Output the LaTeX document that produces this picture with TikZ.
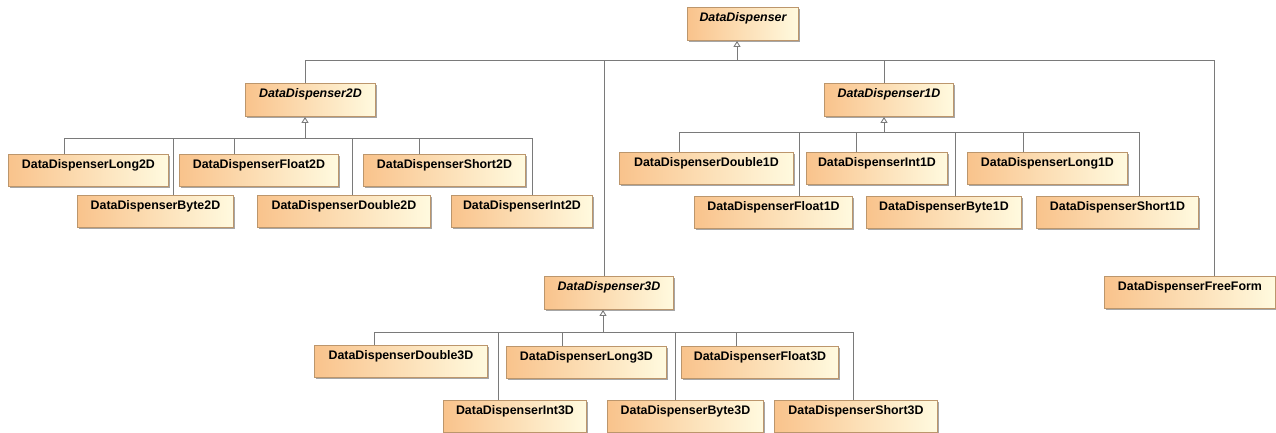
\documentclass[tikz,border=0pt]{standalone}
\usepackage{fontspec}
\setmainfont{Liberation Sans}
\usetikzlibrary{arrows.meta,shadows}
\definecolor{cOrange}{HTML}{F9C38C}
\definecolor{cYellow}{HTML}{FFFADF}
\definecolor{cBorder}{HTML}{BC966C}
\definecolor{cLine}{HTML}{7A7A7A}
\tikzset{
  cls/.style={draw=cBorder, line width=0.9pt, left color=cOrange, right color=cYellow,
    anchor=north west, inner xsep=0pt, inner ysep=0pt, text height=14pt, text depth=18pt,
    font=\fontsize{12.4}{14}\selectfont\bfseries, text=black,
    drop shadow={shadow xshift=1.6pt, shadow yshift=-1.6pt, fill=black!35, opacity=1}},
  abs/.style={cls, text depth=19pt, font=\fontsize{12.4}{14}\selectfont\bfseries\itshape},
  conn/.style={draw=cLine, line width=0.9pt},
  gen/.style={conn, -{Triangle[open, length=6pt, width=7pt]}},
}
\begin{document}
\begin{tikzpicture}[x=1pt,y=-1pt]
\useasboundingbox (0,0) rectangle (1276,432);
% root
\node[abs, minimum width=111pt] (dd) at (687,7) {DataDispenser};
% abstract children
\node[abs, minimum width=130pt] (d2) at (245,83) {DataDispenser2D};
\node[abs, minimum width=129pt] (d1) at (824,83) {DataDispenser1D};
\node[abs, minimum width=129pt] (d3) at (544,276) {DataDispenser3D};
\node[cls, minimum width=171pt] (ff) at (1104,276) {DataDispenserFreeForm};
% 2D children
\node[cls, minimum width=160pt] (long2) at (8,154) {DataDispenserLong2D};
\node[cls, minimum width=159pt] (float2) at (179,154) {DataDispenserFloat2D};
\node[cls, minimum width=162pt] (short2) at (363,154) {DataDispenserShort2D};
\node[cls, minimum width=156pt] (byte2) at (77,195) {DataDispenserByte2D};
\node[cls, minimum width=173pt] (double2) at (257,195) {DataDispenserDouble2D};
\node[cls, minimum width=141pt] (int2) at (451,195) {DataDispenserInt2D};
% 1D children
\node[cls, minimum width=174pt] (double1) at (619,152) {DataDispenserDouble1D};
\node[cls, minimum width=141pt] (int1) at (806,152) {DataDispenserInt1D};
\node[cls, minimum width=160pt] (long1) at (967,152) {DataDispenserLong1D};
\node[cls, minimum width=158pt] (float1) at (694,196) {DataDispenserFloat1D};
\node[cls, minimum width=155pt] (byte1) at (866,196) {DataDispenserByte1D};
\node[cls, minimum width=162pt] (short1) at (1036,196) {DataDispenserShort1D};
% 3D children
\node[cls, minimum width=173pt] (double3) at (314,345) {DataDispenserDouble3D};
\node[cls, minimum width=160pt] (long3) at (506,346) {DataDispenserLong3D};
\node[cls, minimum width=157pt] (float3) at (681,346) {DataDispenserFloat3D};
\node[cls, minimum width=143pt] (int3) at (443,400) {DataDispenserInt3D};
\node[cls, minimum width=156pt] (byte3) at (607,400) {DataDispenserByte3D};
\node[cls, minimum width=163pt] (short3) at (774,400) {DataDispenserShort3D};
% junctions: root bus
\coordinate (r0) at (737,60);
\coordinate (r2) at (305,60);
\coordinate (r3) at (604,60);
\coordinate (r1) at (884,60);
\coordinate (rf) at (1214,60);
\draw[conn] (r2) -- (rf);
\draw[gen] (r0) -- (r0 |- dd.south);
\draw[conn] (r2) -- (r2 |- d2.north);
\draw[conn] (r3) -- (r3 |- d3.north);
\draw[conn] (r1) -- (r1 |- d1.north);
\draw[conn] (rf) -- (rf |- ff.north);
% 2D bus
\coordinate (a0) at (305,138);
\coordinate (aLong) at (64,138);
\coordinate (aByte) at (173,138);
\coordinate (aFloat) at (234,138);
\coordinate (aDouble) at (352,138);
\coordinate (aShort) at (419,138);
\coordinate (aInt) at (532,138);
\draw[conn] (aLong) -- (aInt);
\draw[gen] (a0) -- (a0 |- d2.south);
\draw[conn] (aLong) -- (aLong |- long2.north);
\draw[conn] (aByte) -- (aByte |- byte2.north);
\draw[conn] (aFloat) -- (aFloat |- float2.north);
\draw[conn] (aDouble) -- (aDouble |- double2.north);
\draw[conn] (aShort) -- (aShort |- short2.north);
\draw[conn] (aInt) -- (aInt |- int2.north);
% 1D bus
\coordinate (b0) at (884,132);
\coordinate (bDouble) at (679,132);
\coordinate (bFloat) at (799,132);
\coordinate (bInt) at (856,132);
\coordinate (bByte) at (955,132);
\coordinate (bLong) at (1023,132);
\coordinate (bShort) at (1139,132);
\draw[conn] (bDouble) -- (bShort);
\draw[gen] (b0) -- (b0 |- d1.south);
\draw[conn] (bDouble) -- (bDouble |- double1.north);
\draw[conn] (bFloat) -- (bFloat |- float1.north);
\draw[conn] (bInt) -- (bInt |- int1.north);
\draw[conn] (bByte) -- (bByte |- byte1.north);
\draw[conn] (bLong) -- (bLong |- long1.north);
\draw[conn] (bShort) -- (bShort |- short1.north);
% 3D bus
\coordinate (c0) at (603,332);
\coordinate (cDouble) at (374,332);
\coordinate (cInt) at (498,332);
\coordinate (cLong) at (562,332);
\coordinate (cByte) at (675,332);
\coordinate (cFloat) at (736,332);
\coordinate (cShort) at (853,332);
\draw[conn] (cDouble) -- (cShort);
\draw[gen] (c0) -- (c0 |- d3.south);
\draw[conn] (cDouble) -- (cDouble |- double3.north);
\draw[conn] (cInt) -- (cInt |- int3.north);
\draw[conn] (cLong) -- (cLong |- long3.north);
\draw[conn] (cByte) -- (cByte |- byte3.north);
\draw[conn] (cFloat) -- (cFloat |- float3.north);
\draw[conn] (cShort) -- (cShort |- short3.north);
\end{tikzpicture}
\end{document}
